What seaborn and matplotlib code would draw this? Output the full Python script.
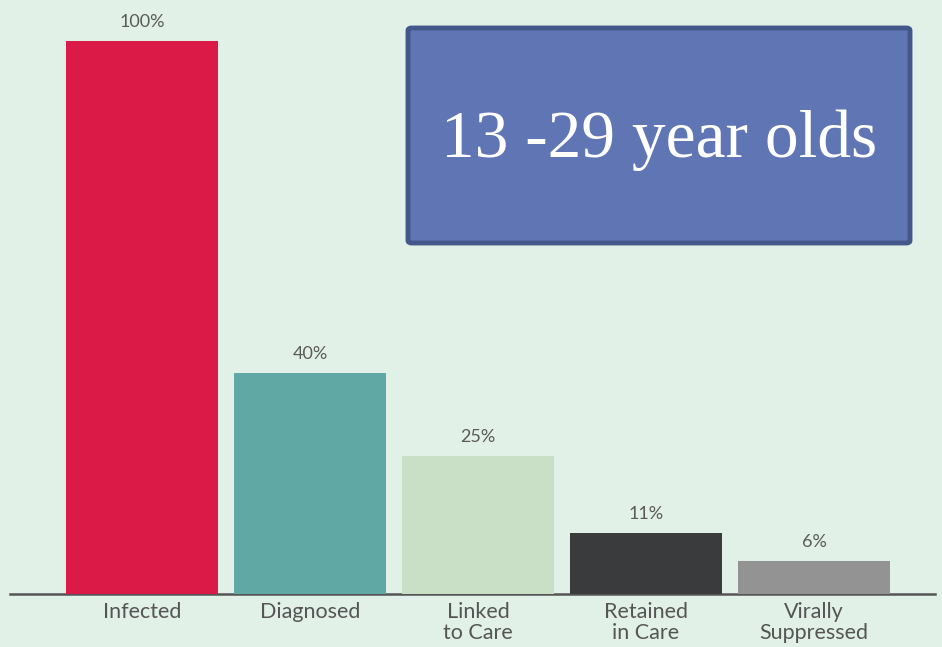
import matplotlib
matplotlib.use("Agg")
import matplotlib.pyplot as plt
import seaborn as sns
import pandas as pd
from matplotlib.patches import FancyBboxPatch

categories = ["Infected", "Diagnosed", "Linked\nto Care", "Retained\nin Care", "Virally\nSuppressed"]
values = [100, 40, 25, 11, 6]
value_labels = ["100%", "40%", "25%", "11%", "6%"]
colors = ["#DC1A48", "#60A8A4", "#C9DFC6", "#393B3D", "#939394"]
title_text = "13 -29 year olds"

bg = "#E1F1E7"
sns.set_theme(style="white")
plt.rcParams["font.family"] = ["Lato", "DejaVu Sans"]

df = pd.DataFrame({"cat": categories, "val": values})

fig = plt.figure(figsize=(9.42, 6.47), dpi=100, facecolor=bg)
ax = fig.add_axes([10/942, 53/647, 925/942, 594/647])
ax.set_facecolor(bg)

sns.barplot(data=df, x="cat", y="val", hue="cat", palette=colors, legend=False,
            width=0.91, ax=ax, saturation=1, linewidth=0)

for cont, lab in zip(ax.containers, value_labels):
    ax.bar_label(cont, labels=[lab], padding=8, fontsize=13, color="#5a5a5a")

ax.set_xlim(-0.786, 4.72)
ax.set_ylim(0, 107.4)
for s in ["top", "right", "left"]:
    ax.spines[s].set_visible(False)
ax.spines["bottom"].set_color("#555555")
ax.spines["bottom"].set_linewidth(1.8)
ax.spines["bottom"].set_zorder(0)
ax.set_yticks([])
ax.set_xlabel("")
ax.set_ylabel("")
ax.tick_params(axis="x", length=0, pad=6, labelsize=15.5, labelcolor="#555555")
for t in ax.get_xticklabels():
    t.set_linespacing(1.05)

# title box
box = FancyBboxPatch((408/942, 1 - 243/647), (910-408)/942, (243-28)/647,
                     boxstyle="round,pad=0,rounding_size=0.004",
                     transform=fig.transFigure, facecolor="#6076B4",
                     edgecolor="#44578A", linewidth=3.5, zorder=5)
fig.patches.append(box)
fig.text((408+910)/2/942, 1 - 140/647, title_text, ha="center", va="center",
         color="white", fontsize=48.5, family=["Liberation Serif", "DejaVu Serif"], zorder=6)

fig.savefig("out.png", dpi=100, facecolor=bg)
